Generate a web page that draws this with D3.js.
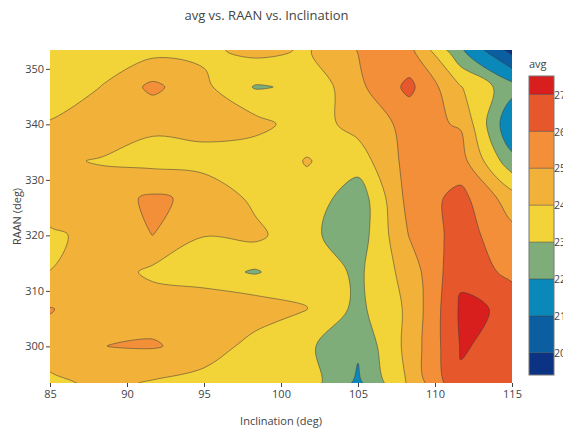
<!DOCTYPE html>
<html>
<head>
<meta charset="utf-8">
<script src="https://cdn.jsdelivr.net/npm/d3@7"></script>
<style>
  body { margin: 0; background: #fff; }
  svg { display: block; font-family: "Open Sans", sans-serif; }
</style>
</head>
<body>
<svg id="chart" width="563" height="433"></svg>
<script>
// Grid axes
const inclination = [85, 88.33, 91.67, 95, 98.33, 101.67, 105, 108.33, 111.67, 115];
const raan = [293.4, 300.07, 306.73, 313.4, 320.07, 326.73, 333.4, 340.07, 346.73, 353.4];

// avg values, one row per RAAN (lowest first), one column per inclination
const avg = [
  [23.71, 24.27, 23.90, 23.53, 23.40, 23.52, 21.78, 24.15, 26.90, 26.70],
  [24.68, 24.99, 25.08, 24.68, 23.57, 23.18, 22.19, 24.34, 27.06, 26.77],
  [25.05, 24.50, 24.65, 24.79, 24.64, 24.02, 22.75, 24.20, 27.15, 26.88],
  [24.01, 24.60, 23.77, 23.40, 22.90, 23.75, 22.80, 24.45, 26.81, 25.67],
  [23.80, 24.37, 25.01, 24.03, 24.25, 23.24, 22.43, 25.05, 26.45, 25.30],
  [24.73, 24.60, 25.15, 24.77, 23.76, 23.66, 22.37, 25.37, 26.32, 24.45],
  [24.19, 23.92, 23.70, 23.60, 23.30, 24.06, 23.49, 25.38, 25.40, 22.30],
  [24.10, 24.70, 24.15, 24.38, 24.34, 23.50, 24.35, 25.30, 24.92, 21.10],
  [23.20, 24.02, 25.24, 24.23, 22.92, 23.15, 24.76, 26.25, 24.05, 22.39],
  [23.40, 23.50, 23.65, 23.78, 24.30, 23.89, 25.03, 25.27, 22.15, 19.60]
];

// Contour levels and the fill of each band (lowest band first)
const levels = [20, 21, 22, 23, 24, 25, 26, 27];
const bandColors = [
  "rgb(12,51,131)", "rgb(11,94,159)", "rgb(10,136,186)", "rgb(126,173,121)",
  "rgb(242,211,56)", "rgb(242,177,56)", "rgb(242,143,56)", "rgb(230,87,43)", "rgb(217,30,30)"
];
const colorbarRange = [19.4, 27.5];

const xTicks = [85, 90, 95, 100, 105, 110, 115];
const yTicks = [300, 310, 320, 330, 340, 350];

(function drawChart() {
  const svg = d3.select("#chart");
  const pL = 50, pR = 512, pT = 50, pB = 383;

  const x = d3.scaleLinear().domain([inclination[0], inclination[inclination.length - 1]]).range([pL, pR]);
  const y = d3.scaleLinear().domain([raan[0], raan[raan.length - 1]]).range([pB, pT]);

  const nx = inclination.length, ny = raan.length;
  // d3.contours places sample i at grid coordinate i + 0.5
  const gx = d3.scaleLinear().domain([0.5, nx - 0.5]).range([inclination[0], inclination[nx - 1]]);
  const gy = d3.scaleLinear().domain([0.5, ny - 0.5]).range([raan[0], raan[ny - 1]]);

  const flat = avg.flat();
  const contours = d3.contours().size([nx, ny]).thresholds(levels)(flat);

  const ringLine = d3.line().curve(d3.curveCatmullRomClosed.alpha(0.5));
  function ringToPath(ring) {
    const pts = [];
    ring.forEach(([u, v], i) => {
      if (i === ring.length - 1 && u === ring[0][0] && v === ring[0][1]) return;
      const p = [x(gx(u)), y(gy(v))];
      const last = pts[pts.length - 1];
      if (!last || Math.hypot(last[0] - p[0], last[1] - p[1]) > 0.05) pts.push(p);
    });
    return pts.length > 2 ? ringLine(pts) : "";
  }
  function geomToPath(geom) {
    return geom.coordinates.map(poly => poly.map(ringToPath).join("")).join("");
  }

  svg.append("defs").append("clipPath").attr("id", "plot-clip")
    .append("rect").attr("x", pL).attr("y", pT).attr("width", pR - pL).attr("height", pB - pT);

  const plot = svg.append("g").attr("clip-path", "url(#plot-clip)");
  plot.append("rect").attr("x", pL).attr("y", pT).attr("width", pR - pL).attr("height", pB - pT)
    .attr("fill", bandColors[0]);

  const paths = contours.map(c => geomToPath(c));
  plot.selectAll("path.band").data(paths).join("path")
    .attr("class", "band")
    .attr("d", d => d)
    .attr("fill", (d, i) => bandColors[i + 1])
    .attr("fill-rule", "evenodd");
  plot.selectAll("path.level").data(paths).join("path")
    .attr("class", "level")
    .attr("d", d => d)
    .attr("fill", "none")
    .attr("stroke", "rgba(60,60,60,0.75)")
    .attr("stroke-width", 0.7);

  // Axes
  const xAxis = svg.append("g").attr("transform", `translate(0,${pB})`)
    .call(d3.axisBottom(x).tickValues(xTicks).tickSize(4).tickSizeOuter(0).tickPadding(3));
  const yAxis = svg.append("g").attr("transform", `translate(${pL},0)`)
    .call(d3.axisLeft(y).tickValues(yTicks).tickSize(4).tickSizeOuter(0).tickPadding(2));
  [xAxis, yAxis].forEach(g => {
    g.select(".domain").remove();
    g.selectAll(".tick line").attr("stroke", "#444");
    g.selectAll(".tick text").attr("fill", "#444").style("font-size", "11px").style("font-family", "Open Sans");
  });

  // Titles
  svg.append("text").attr("x", 266.5).attr("y", 20).attr("text-anchor", "middle")
    .attr("fill", "#444").style("font-size", "13px").text("avg vs. RAAN vs. Inclination");
  svg.append("text").attr("x", 281).attr("y", 425).attr("text-anchor", "middle")
    .attr("fill", "#444").style("font-size", "11px").text("Inclination (deg)");
  svg.append("text").attr("transform", `translate(21,${(pT + pB) / 2}) rotate(-90)`)
    .attr("text-anchor", "middle").attr("fill", "#444").style("font-size", "11px").text("RAAN (deg)");

  // Colorbar
  const cbX = 529, cbW = 25;
  const cb = d3.scaleLinear().domain(colorbarRange).range([375, 76]);
  const bandEdges = [colorbarRange[0], ...levels, colorbarRange[1]];
  const cbar = svg.append("g");
  cbar.selectAll("rect.cb").data(bandColors).join("rect")
    .attr("class", "cb")
    .attr("x", cbX).attr("width", cbW)
    .attr("y", (d, i) => cb(bandEdges[i + 1]))
    .attr("height", (d, i) => cb(bandEdges[i]) - cb(bandEdges[i + 1]))
    .attr("fill", d => d);
  cbar.selectAll("line.cbl").data(levels).join("line")
    .attr("class", "cbl")
    .attr("x1", cbX).attr("x2", cbX + cbW)
    .attr("y1", d => cb(d)).attr("y2", d => cb(d))
    .attr("stroke", "rgba(60,60,60,0.75)").attr("stroke-width", 0.7);
  cbar.append("rect").attr("x", cbX).attr("y", cb(colorbarRange[1])).attr("width", cbW)
    .attr("height", cb(colorbarRange[0]) - cb(colorbarRange[1]))
    .attr("fill", "none").attr("stroke", "#777").attr("stroke-width", 1);
  cbar.selectAll("text.cbt").data(levels).join("text")
    .attr("class", "cbt")
    .attr("x", 554).attr("y", d => cb(d)).attr("dy", "0.4em")
    .attr("fill", "#444").style("font-size", "10.5px").text(d => d);
  svg.append("text").attr("x", 529).attr("y", 68).attr("fill", "#444")
    .style("font-size", "11px").text("avg");
})();
</script>
</body>
</html>
